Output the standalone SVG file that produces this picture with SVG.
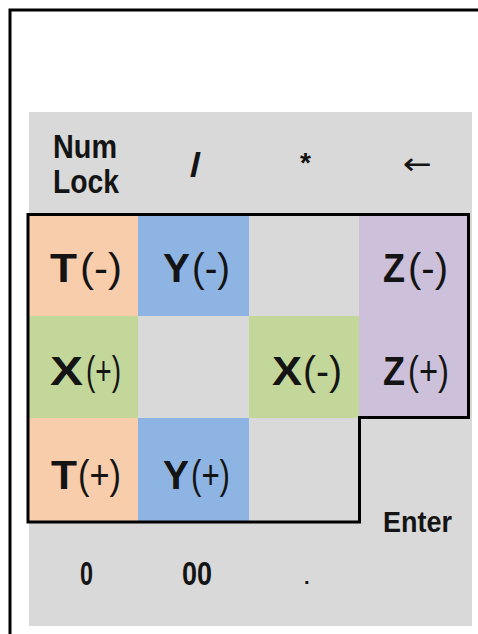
<svg xmlns="http://www.w3.org/2000/svg" width="478" height="634" viewBox="0 0 478 634">
<style>
.t{font-family:"Liberation Sans",Arial,sans-serif;fill:#141414}
.k{font-size:40px}
.b{font-weight:bold}
.n{font-weight:normal}
.sm{font-size:34px}
.ln{fill:none;stroke:#000;stroke-width:3}
</style>
<rect width="478" height="634" fill="#fff"/>
<g id="frame"><path class="ln" d="M10,634 V10 H478"/></g>
<g id="panel"><rect x="29" y="112" width="443" height="514" fill="#d9d9d9"/></g>
<g id="key-numlock">
<text class="t b" font-size="34" x="53" y="158" textLength="64" lengthAdjust="spacingAndGlyphs">Num</text>
<text class="t b" font-size="34" x="53" y="193" textLength="66" lengthAdjust="spacingAndGlyphs">Lock</text>
</g>
<g id="key-slash"><text class="t b" font-size="34" x="190" y="176" textLength="11" lengthAdjust="spacingAndGlyphs">/</text></g>
<g id="key-star"><text class="t b" font-size="28" x="300" y="172">*</text></g>
<g id="key-back"><text font-family="DejaVu Sans,sans-serif" fill="#141414" font-size="30" x="403" y="174" textLength="29" lengthAdjust="spacingAndGlyphs">←</text></g>
<g id="key-T-minus"><rect x="28" y="214" width="110" height="102" fill="#f8cdac"/>
<text class="t k b" x="50" y="282" textLength="27" lengthAdjust="spacingAndGlyphs">T</text>
<text class="t k n" x="80" y="282" textLength="42" lengthAdjust="spacingAndGlyphs">(-)</text></g>
<g id="key-Y-minus"><rect x="138" y="214" width="111" height="102" fill="#8eb4e3"/>
<text class="t k b" x="163" y="282" textLength="27" lengthAdjust="spacingAndGlyphs">Y</text>
<text class="t k n" x="192" y="282" textLength="38" lengthAdjust="spacingAndGlyphs">(-)</text></g>
<g id="key-9"><rect x="249" y="214" width="110" height="102" fill="#d9d9d9"/></g>
<g id="key-Z"><rect x="359" y="214" width="110" height="204" fill="#ccc0da"/>
<text class="t k b" x="383" y="282" textLength="22" lengthAdjust="spacingAndGlyphs">Z</text>
<text class="t k n" x="408" y="282" textLength="40" lengthAdjust="spacingAndGlyphs">(-)</text>
<text class="t k b" x="383" y="385" textLength="22" lengthAdjust="spacingAndGlyphs">Z</text>
<text class="t k n" x="408" y="385" textLength="41" lengthAdjust="spacingAndGlyphs">(+)</text></g>
<g id="key-X-plus"><rect x="28" y="316" width="110" height="102" fill="#c4d79b"/>
<text class="t k b" x="50" y="385" textLength="33" lengthAdjust="spacingAndGlyphs">X</text>
<text class="t k n" x="86" y="385" textLength="35" lengthAdjust="spacingAndGlyphs">(+)</text></g>
<g id="key-5"><rect x="138" y="316" width="111" height="102" fill="#d9d9d9"/></g>
<g id="key-X-minus"><rect x="249" y="316" width="110" height="102" fill="#c4d79b"/>
<text class="t k b" x="272" y="385" textLength="30" lengthAdjust="spacingAndGlyphs">X</text>
<text class="t k n" x="303" y="385" textLength="39" lengthAdjust="spacingAndGlyphs">(-)</text></g>
<g id="key-T-plus"><rect x="28" y="418" width="110" height="104" fill="#f8cdac"/>
<text class="t k b" x="51" y="489" textLength="26" lengthAdjust="spacingAndGlyphs">T</text>
<text class="t k n" x="78" y="489" textLength="43" lengthAdjust="spacingAndGlyphs">(+)</text></g>
<g id="key-Y-plus"><rect x="138" y="418" width="111" height="104" fill="#8eb4e3"/>
<text class="t k b" x="163" y="489" textLength="26" lengthAdjust="spacingAndGlyphs">Y</text>
<text class="t k n" x="191" y="489" textLength="39" lengthAdjust="spacingAndGlyphs">(+)</text></g>
<g id="key-3"><rect x="249" y="418" width="110" height="104" fill="#d9d9d9"/></g>
<g id="outline"><path class="ln" d="M28,214.5 H468.5 V417.5 H359.5 V522 H28 Z"/></g>
<g id="key-enter"><text class="t b" font-size="30" x="383" y="532" textLength="69" lengthAdjust="spacingAndGlyphs">Enter</text></g>
<g id="key-0"><text class="t b sm" x="80" y="585" textLength="13" lengthAdjust="spacingAndGlyphs">0</text></g>
<g id="key-00"><text class="t b sm" x="182" y="585" textLength="30" lengthAdjust="spacingAndGlyphs">00</text></g>
<g id="key-dot"><text class="t b" font-size="20" x="304" y="584">.</text></g>
<g id="connectors"/>
</svg>
